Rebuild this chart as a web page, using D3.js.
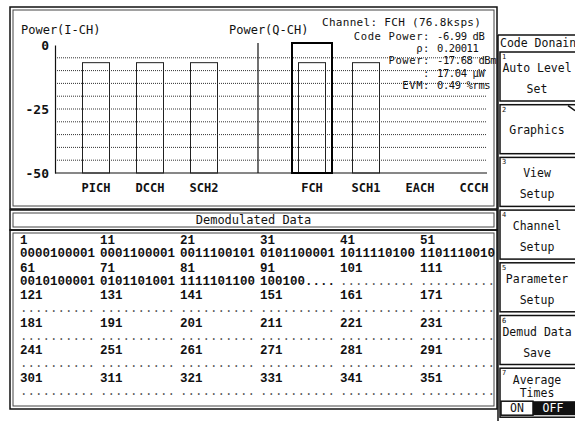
<!DOCTYPE html>
<html>
<head>
<meta charset="utf-8">
<script src="https://cdn.jsdelivr.net/npm/d3@7"></script>
<style>
  body { margin: 0; background: #fff; }
  svg text { font-family: "DejaVu Sans Mono", monospace; fill: #111; }
</style>
</head>
<body>
<script>
// channel slots, "Q" is the blank slot where the Q-CH axis sits
var channels = ["PICH", "DCCH", "SCH2", "Q", "FCH", "SCH1", "EACH", "CCCH"];
var codePower = [-6.9, -6.9, -6.9, null, -6.9, -6.9, null, null];
var selected = "FCH";
var yTicks = [0, -25, -50];
var gridValues = [-5, -10, -15, -20, -25, -30, -35, -40, -45];

var infoLabels = ["Code Power:", "\u03c1:", "Power:", ":", "EVM:"];
var infoValues = ["-6.99 dB", "0.20011", "-17.68 dBm", "17.04 \u03bcW", "0.49 %rms"];

var startIndex = [
  [1, 11, 21, 31, 41, 51],
  [61, 71, 81, 91, 101, 111],
  [121, 131, 141, 151, 161, 171],
  [181, 191, 201, 211, 221, 231],
  [241, 251, 261, 271, 281, 291],
  [301, 311, 321, 331, 341, 351]
];
var bitRows = [
  ["0000100001", "0001100001", "0011100101", "0101100001", "1011110100", "1101110010"],
  ["0010100001", "0101101001", "1111101100", "100100....", "..........", ".........."],
  ["..........", "..........", "..........", "..........", "..........", ".........."],
  ["..........", "..........", "..........", "..........", "..........", ".........."],
  ["..........", "..........", "..........", "..........", "..........", ".........."],
  ["..........", "..........", "..........", "..........", "..........", ".........."]
];

var menuItems = [
  { n: "1", lines: ["Auto Level", "Set"] },
  { n: "2", lines: ["Graphics"] },
  { n: "3", lines: ["View", "Setup"] },
  { n: "4", lines: ["Channel", "Setup"] },
  { n: "5", lines: ["Parameter", "Setup"] },
  { n: "6", lines: ["Demud Data", "Save"] },
  { n: "7", lines: ["Average", "Times"] }
];

var W = 575, H = 421;
var svg = d3.select("body").append("svg").attr("width", W).attr("height", H);

function frame(x0, y0, x1, y1) {
  svg.append("rect").attr("x", x0).attr("y", y0)
    .attr("width", x1 - x0).attr("height", y1 - y0)
    .attr("fill", "none").attr("stroke", "#111").attr("stroke-width", 1.5);
  svg.append("rect").attr("x", x0 + 3).attr("y", y0 + 3)
    .attr("width", x1 - x0 - 6).attr("height", y1 - y0 - 6)
    .attr("fill", "none").attr("stroke", "#444").attr("stroke-width", 1);
}

frame(10, 7, 497, 209);
frame(10, 210, 497, 230);
frame(10, 230, 497, 409);

// ---- code domain plot ----
var x = d3.scaleBand().domain(channels).range([69, 501])
  .paddingInner(0.5).paddingOuter(0.25);
var y = d3.scaleLinear().domain([-50, 0]).range([173, 45]);
var bw = x.bandwidth();

var plot = svg.append("g");

plot.selectAll("line.grid").data(gridValues).enter().append("line")
  .attr("class", "grid")
  .attr("x1", 55).attr("x2", 487)
  .attr("y1", function (d) { return y(d); }).attr("y2", function (d) { return y(d); })
  .attr("stroke", "#333").attr("stroke-width", 1).attr("stroke-dasharray", "1,1");

var yAxis = d3.axisLeft(y).tickValues(yTicks).tickSize(0).tickPadding(6)
  .tickFormat(function (d) { return d; });
var gy = plot.append("g").attr("transform", "translate(55,0)").call(yAxis);
gy.select(".domain").attr("stroke", "#111").attr("stroke-width", 1.2);
gy.selectAll("text").style("font-size", "13px").style("font-weight", "bold")
  .style("font-family", "'DejaVu Sans Mono', monospace");

plot.append("line").attr("x1", 55).attr("x2", 487)
  .attr("y1", y(-50)).attr("y2", y(-50))
  .attr("stroke", "#111").attr("stroke-width", 1.2);

var barData = channels.map(function (c, i) { return { ch: c, v: codePower[i] }; })
  .filter(function (d) { return d.v !== null; });

plot.selectAll("rect.bar").data(barData).enter().append("rect")
  .attr("class", "bar")
  .attr("x", function (d) { return x(d.ch); })
  .attr("y", function (d) { return y(d.v); })
  .attr("width", bw)
  .attr("height", function (d) { return y(-50) - y(d.v); })
  .attr("fill", "none").attr("stroke", "#222").attr("stroke-width", 1);

// Q-CH axis in the empty slot
var qx = x("Q") + bw / 2;
plot.append("line").attr("x1", qx).attr("x2", qx)
  .attr("y1", y(0) - 2).attr("y2", y(-50))
  .attr("stroke", "#111").attr("stroke-width", 1.2);

// selected channel box
var sx = x(selected) + bw / 2;
plot.append("rect").attr("x", sx - 20).attr("y", y(0) - 2)
  .attr("width", 40).attr("height", y(-50) - y(0) + 2)
  .attr("fill", "none").attr("stroke", "#000").attr("stroke-width", 2);

var xAxis = d3.axisBottom(x).tickSize(0).tickPadding(10)
  .tickFormat(function (d) { return d === "Q" ? "" : d; });
var gx = plot.append("g").attr("transform", "translate(0," + y(-50) + ")").call(xAxis);
gx.select(".domain").remove();
gx.selectAll("text").style("font-size", "12px").style("font-weight", "bold")
  .style("font-family", "'DejaVu Sans Mono', monospace");

plot.append("text").attr("x", 21).attr("y", 34).style("font-size", "12px").text("Power(I-CH)");
plot.append("text").attr("x", 229).attr("y", 34).style("font-size", "12px").text("Power(Q-CH)");

// channel info block
plot.append("text").attr("x", 322).attr("y", 26).style("font-size", "11px")
  .style("letter-spacing", "0.3px").text("Channel: FCH (76.8ksps)");
infoLabels.forEach(function (lab, i) {
  var yy = 39.5 + i * 12.4;
  plot.append("text").attr("x", 430).attr("y", yy).attr("text-anchor", "end")
    .style("font-size", "10.5px").style("letter-spacing", "0.6px").text(lab);
  plot.append("text").attr("x", 437).attr("y", yy)
    .style("font-size", "10.5px").style("letter-spacing", "-0.4px").text(infoValues[i]);
});

// ---- demodulated data ----
svg.append("text").attr("x", 253.5).attr("y", 224).attr("text-anchor", "middle")
  .style("font-size", "12px").text("Demodulated Data");

var colX = d3.range(6).map(function (i) { return 20 + i * 80; });
startIndex.forEach(function (row, r) {
  var base = 244 + r * 27.5;
  row.forEach(function (n, c) {
    svg.append("text").attr("x", colX[c]).attr("y", base)
      .style("font-family", "'Liberation Mono', monospace").style("font-size", "12.5px")
      .style("font-weight", "bold").text(n);
    var s = bitRows[r][c];
    var dots = s.charAt(0) === ".";
    svg.append("text").attr("x", colX[c]).attr("y", base + 13)
      .style("font-family", "'Liberation Mono', monospace").style("font-size", "12.5px")
      .style("font-weight", dots ? "normal" : "bold")
      .style("fill", dots ? "#555" : "#111")
      .text(s);
  });
});

// ---- soft key menu ----
svg.append("line").attr("x1", 498).attr("x2", 575).attr("y1", 35).attr("y2", 35)
  .attr("stroke", "#111").attr("stroke-width", 1.5);
svg.append("line").attr("x1", 498).attr("x2", 498).attr("y1", 35).attr("y2", 421)
  .attr("stroke", "#111").attr("stroke-width", 1.5);
svg.append("text").attr("x", 500).attr("y", 47).style("font-size", "11.5px").text("Code Donain");

menuItems.forEach(function (m, i) {
  var top = 52 + i * 52.7, h = 49;
  svg.append("rect").attr("x", 500).attr("y", top).attr("width", 80).attr("height", h)
    .attr("fill", "#fff").attr("stroke", "#111").attr("stroke-width", 1.5);
  svg.append("text").attr("x", 502).attr("y", top + 7).style("font-size", "7px").text(m.n);
  var ys = m.lines.length === 2 ? [top + 20, top + 41] : [top + 29];
  if (m.n === "7") ys = [top + 16, top + 29];
  m.lines.forEach(function (t, j) {
    svg.append("text").attr("x", 537).attr("y", ys[j]).attr("text-anchor", "middle")
      .style("font-size", "11.5px").text(t);
  });
  if (m.n === "2") {
    svg.append("line").attr("x1", 568).attr("x2", 575).attr("y1", top + 1).attr("y2", top + 6)
      .attr("stroke", "#111").attr("stroke-width", 1.5);
  }
  if (m.n === "7") {
    svg.append("rect").attr("x", 501).attr("y", top + 33).attr("width", 32).attr("height", 14)
      .attr("fill", "#fff").attr("stroke", "#111").attr("stroke-width", 1.5);
    svg.append("rect").attr("x", 533).attr("y", top + 33).attr("width", 45).attr("height", 14)
      .attr("fill", "#111");
    svg.append("text").attr("x", 517).attr("y", top + 44).attr("text-anchor", "middle")
      .style("font-size", "11.5px").text("ON");
    svg.append("text").attr("x", 553).attr("y", top + 44).attr("text-anchor", "middle")
      .style("font-size", "11.5px").style("fill", "#fff").text("OFF");
  }
});
</script>
</body>
</html>
